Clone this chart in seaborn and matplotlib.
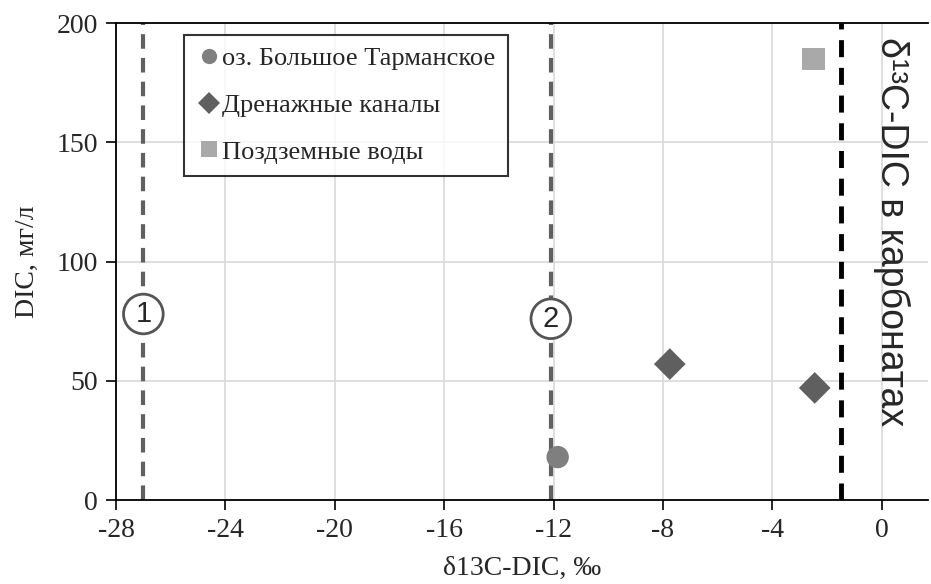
import seaborn as sns
import matplotlib.pyplot as plt
import pandas as pd

# data
groups = ['оз. Большое Тарманское', 'Дренажные каналы', 'Дренажные каналы', 'Поздземные воды']
d13c = [-11.85, -7.75, -2.45, -2.5]
dic = [18, 57, 47, 185]

legend_order = ['оз. Большое Тарманское', 'Дренажные каналы', 'Поздземные воды']
colors = ['#7f7f7f', '#5f5f5f', '#a9a9a9']
markers = ['o', 'D', 's']

# reference lines: boundaries 1 and 2, carbonate value
ref_x = [-27.0, -12.1]
ref_labels = ['1', '2']
ref_label_y = [78, 76]
carb_x = -1.5

xticks = [-28, -24, -20, -16, -12, -8, -4, 0]
yticks = [0, 50, 100, 150, 200]

df = pd.DataFrame({'group': groups, 'd13C': d13c, 'DIC': dic})

sns.set_style('white')
plt.rcParams['font.family'] = ['Liberation Serif', 'DejaVu Serif']
plt.rcParams['axes.unicode_minus'] = False

fig = plt.figure(figsize=(9.31, 5.84), dpi=100)
ax = fig.add_axes([0.1246, 0.1438, 0.8724, 0.8168])

# dashed reference lines
for x, lab, ly in zip(ref_x, ref_labels, ref_label_y):
    ax.axvline(x, color='#606060', lw=3, ls=(0, (3.5, 2.2)), zorder=2)
    ax.text(x, ly, lab, ha='center', va='center', fontsize=21,
            family=['Liberation Sans'], zorder=4,
            bbox=dict(boxstyle='circle,pad=0.2', fc='white', ec='#555555', lw=2))
ax.axvline(carb_x, color='black', lw=3.5, ls=(0, (3.5, 2.2)), zorder=2)
ax.text(0.35, 112.5, 'δ¹³C-DIC в карбонатах', rotation=-90, ha='center', va='center',
        fontsize=27, family=['Liberation Sans', 'DejaVu Sans'])

sns.scatterplot(data=df, x='d13C', y='DIC', hue='group', style='group',
                hue_order=legend_order, style_order=legend_order,
                palette=dict(zip(legend_order, colors)),
                markers=dict(zip(legend_order, markers)),
                s=260, linewidth=0, zorder=3, ax=ax)

handles, labels = ax.get_legend_handles_labels()
for h in handles:
    h.set_markersize(11)
leg = ax.legend(handles, labels, loc='upper left', bbox_to_anchor=(0.084, 0.975),
                frameon=True, fancybox=False, edgecolor='black', fontsize=19,
                handletextpad=0.0, handlelength=1.0, labelspacing=0.88,
                borderpad=0.45, borderaxespad=0)
leg.get_frame().set_linewidth(1.5)

ax.set_xlim(-28, 1.7)
ax.set_ylim(0, 200)
ax.set_xticks(xticks)
ax.set_yticks(yticks)
ax.grid(True, color='#d9d9d9', lw=1.2)
ax.set_axisbelow(True)
for sp in ax.spines.values():
    sp.set_color('black')
    sp.set_linewidth(1.3)
ax.spines['right'].set_visible(False)
ax.tick_params(axis='both', direction='out', length=7, width=1.2, color='black',
               labelsize=20, pad=6, left=True, bottom=True)
ax.set_xlabel('δ13C-DIC, ‰', fontsize=20, labelpad=9)
ax.set_ylabel('DIC, мг/л', fontsize=20, labelpad=12)

fig.savefig('out.png', dpi=100)
